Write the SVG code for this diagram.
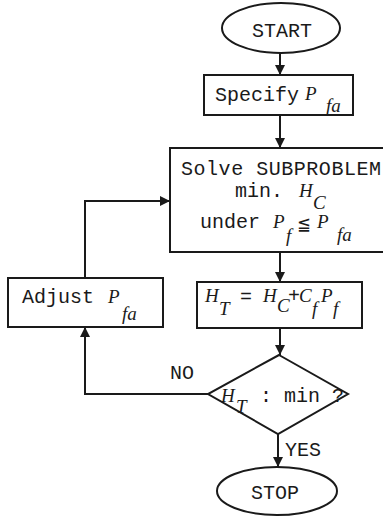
<svg xmlns="http://www.w3.org/2000/svg" width="383" height="518" viewBox="0 0 383 518">
<defs>
<style>
.s{fill:#fff;stroke:#1a1a1a;stroke-width:2}
.t{font-family:"Liberation Mono","Courier New",monospace;font-size:20px;fill:#1a1a1a}
.m{font-family:"Liberation Serif","Times New Roman",serif;font-style:italic;font-size:19px;fill:#1a1a1a}
.c{fill:none;stroke:#1a1a1a;stroke-width:2}
</style>
<marker id="ah" viewBox="0 0 10 10" refX="10" refY="5" markerWidth="5" markerHeight="5" orient="auto" markerUnits="strokeWidth">
<path d="M0,0 L10,5 L0,10 z" fill="#1a1a1a"/>
</marker>
</defs>
<rect width="383" height="518" fill="#fff"/>
<g id="connectors">
<line class="c" x1="280" y1="53" x2="280" y2="75" marker-end="url(#ah)"/>
<line class="c" x1="280" y1="115" x2="280" y2="148" marker-end="url(#ah)"/>
<line class="c" x1="280" y1="252" x2="280" y2="282" marker-end="url(#ah)"/>
<line class="c" x1="280" y1="328" x2="280" y2="355" marker-end="url(#ah)"/>
<line class="c" x1="278" y1="434" x2="278" y2="467" marker-end="url(#ah)"/>
<polyline class="c" points="85,278 85,201 170,201" marker-end="url(#ah)"/>
<polyline class="c" points="208,394 85,394 85,327" marker-end="url(#ah)"/>
<text class="t" x="170" y="379">NO</text>
<text class="t" x="285" y="456">YES</text>
</g>
<g id="start">
<ellipse class="s" cx="281" cy="28" rx="59" ry="25"/>
<text class="t" x="282" y="37" text-anchor="middle">START</text>
</g>
<g id="specify">
<rect class="s" x="204" y="75" width="149" height="40"/>
<text class="t" x="215" y="101">Specify</text>
<text class="m" x="305" y="100">P</text>
<text class="m" x="326" y="112">fa</text>
</g>
<g id="solve">
<rect class="s" x="170" y="148" width="220" height="104"/>
<text class="t" x="181" y="175" textLength="200">Solve SUBPROBLEM</text>
<text class="t" x="235" y="197">min.</text>
<text class="m" x="299" y="197">H</text>
<text class="m" x="313" y="209">C</text>
<text class="t" x="200" y="228">under</text>
<text class="m" x="273" y="228">P</text>
<text class="m" x="286" y="242">f</text>
<text class="t" x="298" y="230" font-size="16">≦</text>
<text class="m" x="317" y="228">P</text>
<text class="m" x="337" y="241">fa</text>
</g>
<g id="adjust">
<rect class="s" x="8" y="278" width="155" height="49"/>
<text class="t" x="22" y="303">Adjust</text>
<text class="m" x="108" y="303">P</text>
<text class="m" x="122" y="320">fa</text>
</g>
<g id="total">
<rect class="s" x="197" y="282" width="165" height="46"/>
<text class="m" x="205" y="302">H</text>
<text class="m" x="219" y="315">T</text>
<text class="t" x="240" y="303" font-size="17">=</text>
<text class="m" x="263" y="302">H</text>
<text class="m" x="277" y="312">C</text>
<text class="t" x="288" y="302" font-size="17">+</text>
<text class="m" x="299" y="302">C</text>
<text class="m" x="312" y="315">f</text>
<text class="m" x="321" y="302">P</text>
<text class="m" x="333" y="315">f</text>
</g>
<g id="decision">
<polygon class="s" points="279,355 348,394 278,434 208,394"/>
<text class="m" x="221" y="402">H</text>
<text class="m" x="236" y="413">T</text>
<text class="t" x="260" y="402">: min ?</text>
</g>
<g id="stop">
<ellipse class="s" cx="277" cy="491" rx="60" ry="24"/>
<text class="t" x="275" y="499" text-anchor="middle">STOP</text>
</g>
</svg>
